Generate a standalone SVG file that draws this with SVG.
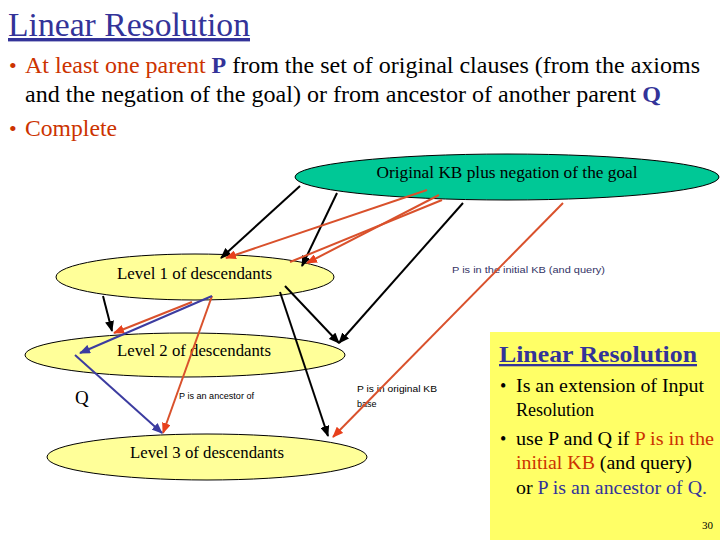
<svg xmlns="http://www.w3.org/2000/svg" width="720" height="540" viewBox="0 0 720 540">
<defs>
<marker id="ab" markerWidth="11" markerHeight="9" refX="10" refY="4.5" orient="auto" markerUnits="userSpaceOnUse"><path d="M0,0 L11,4.5 L0,9 z" fill="#000"/></marker>
<marker id="ao" markerWidth="11" markerHeight="9" refX="10" refY="4.5" orient="auto" markerUnits="userSpaceOnUse"><path d="M0,0 L11,4.5 L0,9 z" fill="#E8401C"/></marker>
<marker id="al" markerWidth="11" markerHeight="9" refX="10" refY="4.5" orient="auto" markerUnits="userSpaceOnUse"><path d="M0,0 L11,4.5 L0,9 z" fill="#3C3CA0"/></marker>
</defs>
<style>
.serif{font-family:"Liberation Serif","Times New Roman",serif}
.lbl{font-family:"Liberation Serif","Times New Roman",serif;font-size:17px;fill:#000}
.small{font-family:"Liberation Sans",Arial,sans-serif;font-size:9px}
.ell{stroke:#000;stroke-width:1}
.lev{fill:#FFFF99}
.bk{stroke:#000;stroke-width:2;fill:none}
.or{stroke:#D9512C;stroke-width:2;fill:none}
.bl{stroke:#3C3CA0;stroke-width:2;fill:none}
.orange{fill:#CC3300}
.blue{fill:#333399}
</style>
<rect width="720" height="540" fill="#fff"/>

<g id="header">
<text x="8" y="36" class="serif" font-size="34" fill="#333399" text-decoration="underline" textLength="242" lengthAdjust="spacingAndGlyphs">Linear Resolution</text>
<text x="9" y="73" class="serif orange" font-size="22">•</text>
<text x="25" y="73" class="serif" font-size="24" textLength="675" lengthAdjust="spacingAndGlyphs"><tspan class="orange">At least one parent </tspan><tspan class="blue" font-weight="bold">P</tspan><tspan> from the set of original clauses (from the axioms</tspan></text>
<text x="25" y="102" class="serif" font-size="24" textLength="636" lengthAdjust="spacingAndGlyphs"><tspan>and the negation of the goal) or from ancestor of another parent </tspan><tspan class="blue" font-weight="bold">Q</tspan></text>
<text x="9" y="136" class="serif orange" font-size="22">•</text>
<text x="25" y="136" class="serif orange" font-size="24" textLength="92" lengthAdjust="spacingAndGlyphs">Complete</text>
</g>

<g id="node-original">
<ellipse cx="507" cy="177" rx="212" ry="23" fill="#00C896" class="ell"/>
<text x="507" y="178" class="lbl" text-anchor="middle" textLength="261" lengthAdjust="spacingAndGlyphs">Original KB plus negation of the goal</text>
</g>
<g id="node-level1">
<ellipse cx="195" cy="277" rx="139" ry="23" class="ell lev"/>
<text x="117" y="279" class="lbl" textLength="155" lengthAdjust="spacingAndGlyphs">Level 1 of descendants</text>
</g>
<g id="node-level2">
<ellipse cx="185" cy="355" rx="160" ry="22" class="ell lev"/>
<text x="117" y="356" class="lbl" textLength="154" lengthAdjust="spacingAndGlyphs">Level 2 of descendants</text>
</g>
<g id="node-level3">
<ellipse cx="207" cy="457" rx="160" ry="23" class="ell lev"/>
<text x="130" y="458" class="lbl" textLength="154" lengthAdjust="spacingAndGlyphs">Level 3 of descendants</text>
</g>
<g id="node-q">
<text x="75" y="404" class="serif" font-size="19">Q</text>
</g>

<g id="labels">
<text x="452" y="273" class="small" fill="#333366" font-size="10" textLength="153" lengthAdjust="spacingAndGlyphs">P is in the initial KB (and query)</text>
<text x="179" y="399" class="small" textLength="75" lengthAdjust="spacingAndGlyphs">P is an ancestor of</text>
<text x="357" y="392" class="small" textLength="80" lengthAdjust="spacingAndGlyphs">P is  in original KB</text>
<text x="357" y="407" class="small">base</text>
</g>

<g id="connectors">
<line x1="300" y1="186" x2="221" y2="258" class="bk" marker-end="url(#ab)"/>
<line x1="337" y1="193" x2="302" y2="266" class="bk" marker-end="url(#ab)"/>
<line x1="103" y1="296" x2="112" y2="331" class="bk" marker-end="url(#ab)"/>
<line x1="280" y1="292" x2="328" y2="436" class="bk" marker-end="url(#ab)"/>
<line x1="285" y1="286" x2="339" y2="343" class="bk" marker-end="url(#ab)"/>
<line x1="463" y1="203" x2="339" y2="343" class="bk" marker-end="url(#ab)"/>
<line x1="427" y1="190" x2="226" y2="258" class="or" marker-end="url(#ao)"/>
<line x1="439" y1="195" x2="307" y2="263" class="or" marker-end="url(#ao)"/>
<line x1="442" y1="200" x2="290" y2="262" class="or"/>
<line x1="563" y1="203" x2="333" y2="437" class="or" marker-end="url(#ao)"/>
<line x1="212" y1="296" x2="163" y2="433" class="or" marker-end="url(#ao)"/>
<line x1="192" y1="302" x2="114" y2="333" class="or" marker-end="url(#ao)"/>
<line x1="212" y1="296" x2="80" y2="353" class="bl" marker-end="url(#al)"/>
<line x1="75" y1="355" x2="162" y2="433" class="bl" marker-end="url(#al)"/>
</g>

<g id="side-box">
<rect x="490" y="332" width="230" height="208" fill="#FFFF66"/>
<text x="499" y="362" class="serif" font-size="23" font-weight="bold" fill="#333399" text-decoration="underline" textLength="198" lengthAdjust="spacingAndGlyphs">Linear Resolution</text>
<g class="serif" font-size="18">
<text x="500" y="392">•</text>
<text x="516" y="392" textLength="188" lengthAdjust="spacingAndGlyphs">Is an extension of Input</text>
<text x="516" y="416">Resolution</text>
<text x="500" y="445">•</text>
<text x="516" y="445" textLength="198" lengthAdjust="spacingAndGlyphs"><tspan>use P and Q if </tspan><tspan class="orange">P is in the</tspan></text>
<text x="516" y="469" textLength="176" lengthAdjust="spacingAndGlyphs"><tspan class="orange">initial KB</tspan><tspan> (and query)</tspan></text>
<text x="516" y="494" textLength="191" lengthAdjust="spacingAndGlyphs"><tspan>or </tspan><tspan class="blue">P is an ancestor of Q.</tspan></text>
</g>
<text x="702" y="529" class="serif" font-size="11">30</text>
</g>
</svg>
